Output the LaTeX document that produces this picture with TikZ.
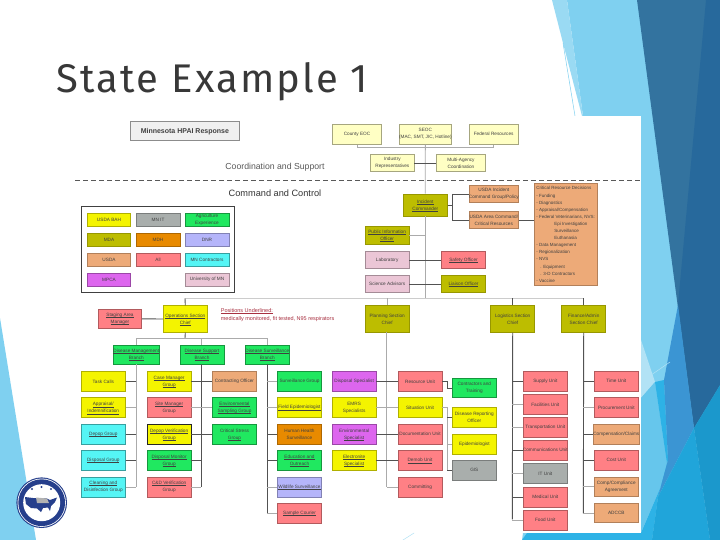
\documentclass[tikz,border=0pt]{standalone}
\usepackage{fontspec}
\setmainfont{Liberation Sans}
\newfontfamily\titlefont[LetterSpace=5.6]{Fira Sans}
\definecolor{cY}{HTML}{F4F400}
\definecolor{cG}{HTML}{A9AEAC}
\definecolor{cN}{HTML}{20E860}
\definecolor{cO}{HTML}{BDBD00}
\definecolor{cR}{HTML}{E88A00}
\definecolor{cL}{HTML}{B5B5FA}
\definecolor{cT}{HTML}{EDAA78}
\definecolor{cS}{HTML}{FF8085}
\definecolor{cC}{HTML}{55F5F5}
\definecolor{cP}{HTML}{DD66EE}
\definecolor{cK}{HTML}{EBC6D6}
\definecolor{cW}{HTML}{FFFFC4}
\definecolor{noteRed}{HTML}{A83040}
\definecolor{bgLight}{HTML}{7FD0F0}
\definecolor{bgStrip}{HTML}{9ADAF3}
\definecolor{bgPale}{HTML}{B2E2F5}
\definecolor{bgSoft}{HTML}{66C6EC}
\definecolor{bgBright}{HTML}{2DB2E6}
\definecolor{bgMid}{HTML}{3B95D3}
\definecolor{bgBlue}{HTML}{20A5DA}
\definecolor{bgDeep}{HTML}{1B98CC}
\definecolor{bgDark}{HTML}{33739F}
\definecolor{bgDarker}{HTML}{27699C}
\definecolor{navy}{HTML}{263F8C}
\tikzset{
  orgbox/.style={inner sep=0pt,align=center,font=\fontsize{4.7}{7}\selectfont,text=black!75,line width=0.7pt},
  notetext/.style={anchor=west,inner sep=0pt,font=\fontsize{5.5}{6}\selectfont,text=noteRed},
  yb/.style={fill=cY,draw=cY!72!black},
  gb/.style={fill=cG,draw=cG!72!black},
  nb/.style={fill=cN,draw=cN!65!black},
  ob/.style={fill=cO,draw=cO!80!black},
  rb/.style={fill=cR,draw=cR!75!black},
  lb/.style={fill=cL,draw=cL!72!black},
  tb/.style={fill=cT,draw=cT!75!black},
  sb/.style={fill=cS,draw=cS!70!black},
  cb/.style={fill=cC,draw=cC!65!black},
  pb/.style={fill=cP,draw=cP!70!black},
  kb/.style={fill=cK,draw=cK!70!black},
  wb/.style={fill=cW,draw=cW!65!black},
  lineD/.style={draw=black!68,line width=0.9pt},
  lineL/.style={draw=black!33,line width=0.8pt},
  lineT/.style={draw=black!20,line width=1.2pt}
}
\newcommand\bx[7]{%
  \pgfmathsetmacro\cxx{(#2+#4)/2}\pgfmathsetmacro\cyy{(#3+#5)/2}%
  \pgfmathsetmacro\wdd{#4-#2}\pgfmathsetmacro\htt{#5-#3}%
  \node[orgbox,#6,minimum width=\wdd pt,minimum height=\htt pt] (#1) at (\cxx,\cyy) {#7};}
\newsavebox\ulbox
\newlength\ulwd
\newcommand\ul[1]{\sbox\ulbox{#1}\setlength\ulwd{\wd\ulbox}\smash{\rlap{\raisebox{-0.9pt}{\rule{\ulwd}{0.25pt}}}}\usebox\ulbox}
\begin{document}
\begin{tikzpicture}[x=1pt,y=-1pt]
\useasboundingbox (0,0) rectangle (720,540);
% background
\fill[white] (0,0) rectangle (720,540);
\fill[bgLight] (567,0) -- (720,0) -- (720,540) -- (522,540) -- (583,116) -- cycle;
\fill[bgStrip] (552,0) -- (567,0) -- (583,116) -- (582,116) -- (563,43) -- cycle;
\draw[bgLight,line width=0.5pt] (563,43) -- (575,116);
\fill[bgLight] (0,318) -- (36,540) -- (0,540) -- cycle;
\fill[bgDark] (637,0) -- (720,0) -- (720,385) -- (694,428) -- cycle;
\fill[bgDarker] (706,0) -- (720,0) -- (720,385) -- (694,428) -- (678,305) -- cycle;
\fill[bgPale] (641,340) -- (655,382) -- (641,398) -- cycle;
\fill[bgSoft] (641,398) -- (655,382) -- (668,470) -- (641,532) -- cycle;
\fill[bgBright] (655,382) -- (664,380) -- (668,460) -- (658,497) -- (652,540) -- (522,540) -- (527,533) -- (641,533) -- (668,470) -- cycle;
\fill[bgMid] (678,305) -- (694,428) -- (658,497) -- (668,460) -- (664,380) -- cycle;
\fill[bgBlue] (694,428) -- (658,497) -- (652,540) -- (710,540) -- cycle;
\fill[bgDeep] (694,428) -- (720,385) -- (720,540) -- (710,540) -- cycle;
\draw[bgPale,line width=0.5pt] (641,382) -- (670,362);
\fill[white] (330,116) rectangle (641,533);
\fill[white] (75,150) rectangle (330,533);
\draw[bgPale,line width=0.5pt] (403,540) -- (414,533);
% title
\node[anchor=base west,inner sep=0pt,font=\titlefont\fontsize{40}{44}\selectfont,text=black!78] (title) at (56,93) {State Example 1};
% logo
\fill[navy] (41.7,502.7) circle (25.3);
\fill[white] (41.7,502.7) circle (24.2);
\fill[navy] (41.7,502.7) circle (23.4);
\fill[white] (41.7,502.7) circle (18.5);
\fill[navy] (25,497) -- (33,498) -- (47,498.5) -- (50,500) -- (57,497.5) -- (55,502) -- (51,506) -- (50,511) -- (48,507.5) -- (43,508) -- (41,512) -- (37,508.5) -- (31,508) -- (26,504) -- cycle;
\fill[black!30] (36,497.5) -- (47,498.5) -- (49,503) -- (37,503) -- cycle;
\foreach \p in {(32,489),(41.5,487),(51,489)} \fill[navy] \p circle (1.1);
% header
\bx{hdr}{130.7}{121.7}{239}{140.7}{fill=black!6,draw=black!45,font=\bfseries\fontsize{7}{8}\selectfont}{Minnesota HPAI Response}
\node[font=\fontsize{8.7}{10}\selectfont,text=black!65] (coord) at (275,167) {Coordination and Support};
\node[font=\fontsize{9.2}{10}\selectfont,text=black!80] (comm) at (275,193) {Command and Control};
\coordinate (dashL) at (75,180.7);
\coordinate (dashR) at (641,180.7);
\draw[black!65,dashed,line width=0.6pt,dash pattern=on 5pt off 3pt] (dashL) -- (dashR);
% legend
\bx{legend}{81.3}{206.7}{234.7}{292}{draw=black!75,fill=white,line width=0.7pt}{}
\bx{la}{87.3}{213.3}{130.7}{226.7}{yb}{USDA BAH}
\bx{lb}{136}{213.3}{180}{226.7}{gb}{MN IT}
\bx{lc}{185}{213.3}{229}{226.7}{nb}{Agriculture\\Experience}
\bx{ld}{87.3}{233.3}{130.7}{246.7}{ob}{MDA}
\bx{le}{136}{233.3}{180}{246.7}{rb}{MDH}
\bx{lf}{185}{233.3}{229}{246.7}{lb}{DNR}
\bx{lg}{87.3}{253.3}{130.7}{266}{tb}{USDA}
\bx{lh}{136}{253.3}{180}{266}{sb}{All}
\bx{li}{185}{253.3}{229}{266}{cb}{MN Contractors}
\bx{lj}{87.3}{273.3}{130.7}{286}{pb}{MPCA}
\bx{lk}{185}{273.3}{229}{286}{kb}{University of MN}
% coordination
\bx{county}{332.3}{124.3}{381.7}{144.3}{wb}{County EOC}
\bx{seoc}{400.7}{124.3}{450}{144.3}{wb}{SEOC\\(MAC, SMT, JIC, Hotline)}
\bx{fed}{469}{124.3}{518.3}{144.3}{wb}{Federal Resources}
\bx{ind}{370.7}{154.3}{414}{171.7}{wb}{Industry\\Representatives}
\bx{mac}{436.3}{154.3}{485.7}{171.7}{wb}{Multi-Agency\\Coordination}
% command
\bx{ic}{403.3}{194}{447.3}{216}{ob}{\ul{Incident}\\\ul{Commander}}
\bx{icg}{469.3}{185.3}{518.3}{202.7}{tb}{USDA Incident\\Command Group/Policy}
\bx{area}{469.3}{211.3}{518.3}{228.7}{tb}{USDA Area Command/\\Critical Resources}
\bx{crit}{534.3}{183.3}{597}{285.7}{tb,font=\fontsize{4.5}{7.1}\selectfont,align=left}{Critical Resource Decisions\\- Funding\\- Diagnostics\\- Appraisal/Compensation\\- Federal Veterinarians, NVS:\\\hspace*{18pt}Epi Investigation\\\hspace*{18pt}Surveillance\\\hspace*{18pt}Euthanasia\\- Data Management\\- Regionalization\\- NVS\\\hspace*{4pt}. Equipment\\\hspace*{4pt}. 3-D Contractors\\- Vaccine}
\bx{pio}{365.3}{226.7}{409}{244}{ob}{\ul{Public Information}\\\ul{Officer}}
\bx{lab}{365.3}{251.3}{409}{268.7}{kb}{Laboratory}
\bx{sci}{365.3}{275.3}{409}{292.7}{kb}{Science Advisors}
\bx{saf}{441.3}{251.3}{485.7}{268.7}{sb}{\ul{Safety Officer}}
\bx{lia}{441.3}{275.3}{485.7}{292.7}{ob}{\ul{Liaison Officer}}
% sections
\bx{ops}{163.3}{305.7}{207.3}{332.3}{yb}{\ul{Operations Section}\\\ul{Chief}}
\bx{stg}{98.3}{309}{141.7}{328.7}{sb}{\ul{Staging Area}\\\ul{Manager}}
\bx{plan}{365.3}{305.7}{409}{332.3}{ob}{Planning Section\\Chief}
\bx{log}{490.7}{305.7}{534.7}{332.3}{ob}{Logistics Section\\Chief}
\bx{fin}{561.7}{305.7}{605.7}{332.3}{ob}{Finance/Admin\\Section Chief}
\node[notetext] (pos1) at (220.7,310.7) {\ul{Positions Underlined:}};
\node[notetext] (pos2) at (220.7,319.3) {medically monitored, fit tested, N95 respirators};
% branches
\bx{bm}{114.3}{345.3}{158.3}{364}{nb}{\ul{Disease Management}\\\ul{Branch}}
\bx{bs}{180}{345.3}{224}{364}{nb}{\ul{Disease Support}\\\ul{Branch}}
\bx{bv}{245.3}{345.3}{289.3}{364}{nb}{\ul{Disease Surveillance}\\\ul{Branch}}
% column 1
\bx{a1}{81.3}{371.7}{125.3}{391.7}{yb}{Task Calls}
\bx{a2}{81.3}{397.7}{125.3}{417.7}{yb}{\ul{Appraisal/}\\\ul{Indemnification}}
\bx{a3}{81.3}{424.3}{125.3}{444.3}{cb}{\ul{Depop Group}}
\bx{a4}{81.3}{450.3}{125.3}{470.3}{cb}{\ul{Disposal Group}}
\bx{a5}{81.3}{477}{125.3}{497}{cb}{\ul{Cleaning and}\\Disinfection Group}
% column 2
\bx{b1}{147.3}{371.7}{191}{391.7}{yb}{\ul{Case Manager}\\\ul{Group}}
\bx{b2}{147.3}{397.7}{191}{417.7}{sb}{\ul{Site Manager}\\Group}
\bx{b3}{147.3}{424.3}{191}{444.3}{yb,draw=black!85}{\ul{Depop Verification}\\\ul{Group}}
\bx{b4}{147.3}{450.3}{191}{470.3}{nb}{\ul{Disposal Monitor}\\\ul{Group}}
\bx{b5}{147.3}{477}{191}{497}{sb}{\ul{C\&D Verification}\\Group}
% column 3
\bx{c1}{212.7}{371.7}{256.3}{391.7}{tb}{Contracting Officer}
\bx{c2}{212.7}{397.7}{256.3}{417.7}{nb}{\ul{Environmental}\\\ul{Sampling Group}}
\bx{c3}{212.7}{424.3}{256.3}{444.3}{nb}{Critical Stress\\\ul{Group}}
% column 4
\bx{d1}{277.3}{371.7}{321.7}{391.7}{nb}{Surveillance Group}
\bx{d2}{277.3}{397.7}{321.7}{417.7}{yb}{\ul{Field Epidemiologist}}
\bx{d3}{277.3}{424.3}{321.7}{444.3}{rb}{Human Health\\Surveillance}
\bx{d4}{277.3}{450.3}{321.7}{470.3}{nb}{\ul{Education and}\\\ul{Outreach}}
\bx{d5}{277.3}{477}{321.7}{497}{lb}{\ul{Wildlife Surveillance}}
\bx{d6}{277.3}{503.3}{321.7}{523.3}{sb}{\ul{Sample Courier}}
% column 5
\bx{e1}{332.3}{371.7}{376}{391.7}{pb}{Disposal Specialist}
\bx{e2}{332.3}{397.7}{376}{417.7}{yb}{EMRS\\Specialists}
\bx{e3}{332.3}{424.3}{376}{444.3}{pb}{Environmental\\\ul{Specialist}}
\bx{e4}{332.3}{450.3}{376}{470.3}{yb}{\ul{Electronite}\\\ul{Specialist}}
% column 6
\bx{f1}{398}{371.7}{442}{391.7}{sb}{Resource Unit}
\bx{f2}{398}{397.7}{442}{417.7}{yb}{Situation Unit}
\bx{f3}{398}{424.3}{442}{444.3}{sb}{Documentation Unit}
\bx{f4}{398}{450.3}{442}{470.3}{sb}{\ul{Demob Unit}}
\bx{f5}{398}{477}{442}{497}{sb}{Committing}
% column 7
\bx{g1}{452.3}{378.3}{496.3}{397.7}{nb}{Contractors and\\Training}
\bx{g2}{452.3}{407.7}{496.3}{427.7}{yb}{Disease Reporting\\Officer}
\bx{g3}{452.3}{434}{496.3}{454}{yb}{Epidemiologist}
\bx{g4}{452.3}{460.3}{496.3}{480.3}{gb}{GIS}
% column 8
\bx{h1}{523.3}{371.3}{567.3}{391.3}{sb}{Supply Unit}
\bx{h2}{523.3}{394.7}{567.3}{414.7}{sb}{Facilities Unit}
\bx{h3}{523.3}{417.3}{567.3}{437.3}{sb}{Transportation Unit}
\bx{h4}{523.3}{440.3}{567.3}{460.3}{sb}{Communications Unit}
\bx{h5}{523.3}{463.7}{567.3}{483.7}{gb}{IT Unit}
\bx{h6}{523.3}{487}{567.3}{507}{sb}{Medical Unit}
\bx{h7}{523.3}{510}{567.3}{530}{sb}{Food Unit}
% column 9
\bx{i1}{594.3}{371.3}{638.3}{391.3}{sb}{Time Unit}
\bx{i2}{594.3}{397.7}{638.3}{417.7}{sb}{Procurement Unit}
\bx{i3}{594.3}{424.3}{638.3}{444.3}{tb}{Compensation/Claims}
\bx{i4}{594.3}{450.3}{638.3}{470.3}{sb}{Cost Unit}
\bx{i5}{594.3}{477}{638.3}{496.3}{tb}{Comp/Compliance\\Agreement}
\bx{i6}{594.3}{503.3}{638.3}{522.7}{tb}{ADCCB}
% trunk points
\coordinate (barC) at (425.3,147.7);
\coordinate (topBar) at (425.3,298.3);
\coordinate (barL) at (185,298.3);
\coordinate (barR) at (583.3,298.3);
\coordinate (icv) at (452.7,205);
\coordinate (opsBar) at (185,338.3);
\coordinate (tm) at (136.3,338.3);
\coordinate (ts) at (201.3,338.3);
\coordinate (tv) at (267.3,338.3);
\coordinate (tmEnd) at (136.3,487);
\coordinate (tsEnd) at (201.3,487);
\coordinate (tvEnd) at (267.3,513.3);
\coordinate (tp) at (386.7,332.3);
\coordinate (tpEnd) at (386.7,487);
\coordinate (tlEnd) at (512.3,519.3);
\coordinate (tfEnd) at (583.3,513.3);
\coordinate (uv) at (447.3,381.7);
% connectors: coordination
\draw[lineL] (county.south) -- (county.south |- barC) -- (fed.south |- barC) -- (fed.south);
\draw[lineL] (seoc.south) -- (ic.north);
\draw[lineD] (ind.east) -- (mac.west);
\draw[lineL] (ic.south) -- (topBar);
\draw[lineD] (ic.east) -- (icv);
\draw[lineD] (icv |- icg.west) -- (icg.west);
\draw[lineD] (icv |- icg.west) -- (icv |- area.west) -- (area.west);
\draw[lineD] (area.east) -- (area.east -| crit.west);
\draw[lineL] (pio.east) -- (pio.east -| topBar);
\draw[lineD] (lab.east) -- (saf.west);
\draw[lineD] (sci.east) -- (lia.west);
\draw[lineT] (barL) -- (barR);
\draw[lineD] (barL) -- (ops.north);
\draw[lineL] (plan.north |- barL) -- (plan.north);
\draw[lineD] (log.north |- barL) -- (log.north);
\draw[lineD] (fin.north |- barL) -- (fin.north);
\draw[lineD] (ops.west) -- (stg.east);
\draw[lineD] (ops.south) -- (opsBar);
\draw[lineL] (tm) -- (tv);
\draw[lineL] (tm) -- (tm |- bm.north);
\draw[lineL] (ts) -- (ts |- bs.north);
\draw[lineL] (tv) -- (tv |- bv.north);
\draw[lineL] (tm |- bm.south) -- (tmEnd);
\draw[lineD] (ts |- bs.south) -- (tsEnd);
\draw[lineD] (tv |- bv.south) -- (tvEnd);
% column 1
\draw[lineD] (a1.east) -- (a1.east -| tm);
\draw[lineL] (a2.east) -- (a2.east -| tm);
\draw[lineD] (a3.east) -- (a3.east -| tm);
\draw[lineD] (a4.east) -- (a4.east -| tm);
\draw[lineL] (a5.east) -- (a5.east -| tm);
% column 2-3
\draw[lineD] (b1.east) -- (c1.west);
\draw[lineL] (b2.east) -- (c2.west);
\draw[lineD] (b3.east) -- (c3.west);
\draw[lineD] (b4.east) -- (b4.east -| ts);
\draw[lineL] (b5.east) -- (b5.east -| ts);
% column 4
\draw[lineL] (d1.west) -- (d1.west -| tv);
\draw[lineL] (d2.west) -- (d2.west -| tv);
\draw[lineD] (d3.west) -- (d3.west -| tv);
\draw[lineD] (d4.west) -- (d4.west -| tv);
\draw[lineL] (d5.west) -- (d5.west -| tv);
\draw[lineL] (d6.west) -- (d6.west -| tv);
% planning
\draw[lineL] (tp) -- (tpEnd);
\draw[lineD] (e1.east) -- (f1.west);
\draw[lineL] (e2.east) -- (f2.west);
\draw[lineD] (e3.east) -- (f3.west);
\draw[lineD] (e4.east) -- (f4.west);
\draw[lineL] (f5.west) -- (f5.west -| tp);
\draw[lineD] (f1.east) -- (uv) -- (uv |- g1.west) -- (g1.west);
\draw[lineL] (f2.east) -- (f2.east -| uv) -- (uv |- g4.west);
\draw[lineD] (uv |- g2.west) -- (g2.west);
\draw[lineL] (uv |- g3.west) -- (g3.west);
\draw[lineD] (uv |- g4.west) -- (g4.west);
% logistics
\draw[lineD] (log.south) -- (tlEnd);
\foreach \n/\s in {h1/lineD,h2/lineL,h3/lineL,h4/lineD,h5/lineL,h6/lineD,h7/lineL}
  \draw[\s] (\n.west) -- (\n.west -| tlEnd);
% finance
\draw[lineD] (fin.south) -- (tfEnd);
\foreach \n/\s in {i1/lineD,i2/lineL,i3/lineD,i4/lineD,i5/lineL,i6/lineL}
  \draw[\s] (\n.west) -- (\n.west -| tfEnd);
\end{tikzpicture}
\end{document}
